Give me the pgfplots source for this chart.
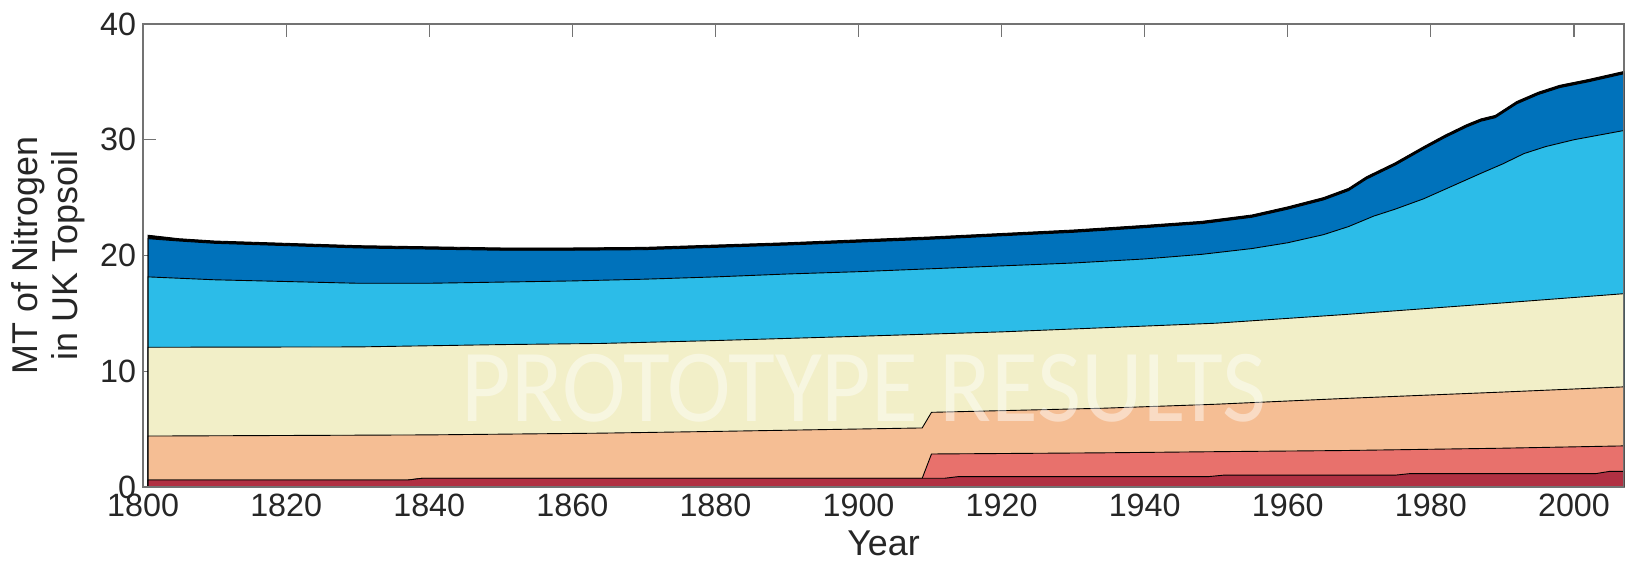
\documentclass[border=0pt]{standalone}
\usepackage{pgfplots}
\pgfplotsset{compat=1.18}
\usepackage{fontspec}
\setmainfont{Liberation Sans}
\newfontfamily\wmfont{Carlito}
\definecolor{c1}{RGB}{176,48,66}
\definecolor{c2}{RGB}{232,113,108}
\definecolor{c3}{RGB}{245,190,148}
\definecolor{c4}{RGB}{242,239,200}
\definecolor{c5}{RGB}{44,188,232}
\definecolor{c6}{RGB}{0,114,187}
\definecolor{axgray}{RGB}{115,115,115}
\begin{document}
\begin{tikzpicture}
\begin{axis}[
 scale only axis, width=740.5bp, height=231.5bp,
 xmin=1800, xmax=2007, ymin=0, ymax=40,
 xtick={1800,1820,...,2000}, ytick={0,10,20,30,40},
 x tick label style={/pgf/number format/1000 sep={}},
 /pgf/number format/assume math mode=true,
 tick align=inside, major tick length=6.5bp,
 axis line style={axgray, line width=0.6bp},
 every tick/.style={axgray, line width=0.6bp},
 tick label style={font=\fontsize{16.2}{19}\selectfont, text=black!85},
 label style={font=\fontsize{18}{20}\selectfont, text=black!85},
 xlabel={Year},
 ylabel={MT of Nitrogen\\in UK Topsoil},
 ylabel style={align=center, at={(axis description cs:-0.064,0.5)}, anchor=center},
 every axis plot/.style={draw=black, line width=0.45bp},
]
% thin black top layer
\addplot[fill=black] coordinates {(1800.7,21.75)(1805,21.45)(1810,21.25)(1820,21.05)(1830,20.85)(1840,20.75)(1850,20.65)(1860,20.65)(1870,20.7)(1880,20.9)(1890,21.1)(1900,21.35)(1910,21.6)(1920,21.9)(1930,22.2)(1940,22.6)(1948,22.95)(1955,23.5)(1960,24.2)(1965,25.0)(1968.5,25.8)(1971,26.8)(1975,28.0)(1979,29.4)(1982,30.4)(1985,31.3)(1987,31.8)(1989,32.1)(1992,33.3)(1995,34.1)(1998,34.7)(2002,35.2)(2007,35.9)} \closedcycle;
% dark blue
\addplot[fill=c6] coordinates {(1800.7,21.45)(1805,21.25)(1810,21.05)(1820,20.85)(1830,20.65)(1840,20.55)(1850,20.45)(1860,20.45)(1870,20.5)(1880,20.7)(1890,20.9)(1900,21.15)(1910,21.4)(1920,21.7)(1930,22.0)(1940,22.4)(1948,22.75)(1955,23.3)(1960,24.0)(1965,24.8)(1968.5,25.6)(1971,26.6)(1975,27.8)(1979,29.2)(1982,30.2)(1985,31.1)(1987,31.6)(1989,31.9)(1992,33.1)(1995,33.9)(1998,34.5)(2002,35.0)(2007,35.7)} \closedcycle;
% light blue
\addplot[fill=c5] coordinates {(1800.7,18.15)(1810,17.9)(1820,17.75)(1830,17.6)(1840,17.6)(1850,17.7)(1860,17.8)(1870,17.95)(1880,18.15)(1890,18.4)(1900,18.6)(1910,18.85)(1920,19.1)(1930,19.35)(1940,19.7)(1948,20.1)(1955,20.6)(1960,21.1)(1965,21.8)(1968.5,22.5)(1972,23.4)(1975,24.0)(1979,24.9)(1983,26.0)(1987,27.1)(1990,27.9)(1993,28.8)(1996,29.4)(2000,30.0)(2007,30.8)} \closedcycle;
% cream
\addplot[fill=c4] coordinates {(1800.7,12.07)(1830,12.1)(1850,12.3)(1864,12.4)(1880,12.65)(1899,13.0)(1920,13.4)(1934,13.75)(1950,14.15)(1968,14.9)(1990,15.9)(2007,16.7)} \closedcycle;
% peach
\addplot[fill=c3] coordinates {(1800.7,4.4)(1840,4.5)(1864,4.65)(1880,4.8)(1908.9,5.1)(1910.2,6.45)(1934,6.8)(1950,7.15)(1968,7.65)(1990,8.2)(2007,8.65)} \closedcycle;
% salmon
\addplot[fill=c2] coordinates {(1800.7,0.6)(1837,0.6)(1839,0.75)(1908.9,0.75)(1910.2,2.85)(1934,2.95)(1950,3.05)(1968,3.15)(1990,3.35)(2007,3.55)} \closedcycle;
% dark red
\addplot[fill=c1] coordinates {(1800.7,0.6)(1837,0.6)(1839,0.75)(1912,0.75)(1914,0.9)(1949,0.9)(1951,1.02)(1975,1.02)(1977,1.15)(2003,1.15)(2005,1.35)(2007,1.35)} \closedcycle;
\node[text=white, text opacity=0.45] at (rel axis cs:0.487,0.214) {\scalebox{0.925}[1]{\wmfont\fontsize{52}{52}\selectfont PROTOTYPE RESULTS}};
\draw[axgray, line width=0.6bp] (rel axis cs:0,0) rectangle (rel axis cs:1,1);
\coordinate (bl) at (rel axis cs:-0.0966,-0.1641);
\coordinate (tr) at (rel axis cs:1.0047,1.0518);
\end{axis}
\pgfresetboundingbox
\path (bl) rectangle (tr);
\end{tikzpicture}
\end{document}
